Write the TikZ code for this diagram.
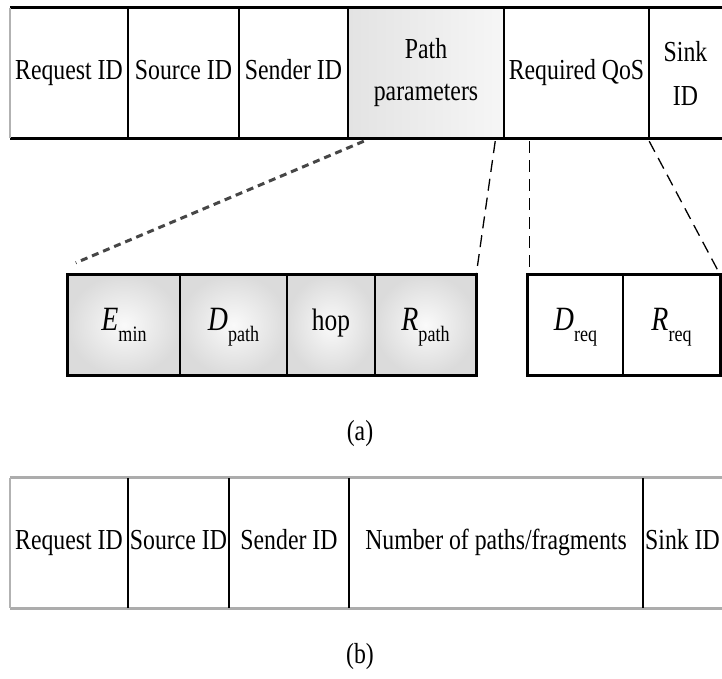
\documentclass[tikz,border=0pt]{standalone}
\usepackage{fontspec}
\setmainfont{Liberation Serif}[FakeStretch=0.82]
\newcommand{\fsub}[2]{{\fontsize{34}{34}\selectfont\itshape #1}\raisebox{-11pt}{\fontsize{22}{22}\selectfont #2}}
\tikzset{
  lbl/.style={font=\fontsize{29}{38}\selectfont},
  cellbox/.style={lbl, inner sep=0pt, minimum height=130pt, text height=20pt, text depth=7pt, align=center},
  twoline/.style={lbl, inner sep=0pt, minimum height=130pt, align=center},
  subcell/.style={inner sep=0pt, minimum height=100pt, text height=24pt, text depth=14pt},
  greycell/.style={subcell, shade, inner color=gray!4, outer color=gray!28},
  ppshade/.style={shade, left color=gray!22, right color=gray!7},
  thickline/.style={line width=3pt, black},
  greyline/.style={line width=3pt, gray!65},
  edgeline/.style={line width=1.5pt, gray!60},
  divider/.style={line width=1.8pt, black},
  subframe/.style={line width=3pt, black},
  graydash/.style={line width=3pt, gray!55!black, dash pattern=on 7pt off 5pt},
  thindash/.style={line width=1.3pt, black, dash pattern=on 12pt off 7pt}
}
\begin{document}
\begin{tikzpicture}[x=1pt, y=-1pt]
\useasboundingbox (0,0) rectangle (722,679);
\fill[white] (0,0) rectangle (722,679);
% ---- (a) header
\node[cellbox, minimum width=118pt] (req) at (69,73) {Request ID};
\node[cellbox, minimum width=111pt] (src) at (183.5,73) {Source ID};
\node[cellbox, minimum width=109pt] (snd) at (293.5,73) {Sender ID};
\node[twoline, ppshade, minimum width=156pt] (pp) at (426,73) {Path\\[4pt]parameters};
\node[cellbox, minimum width=145pt] (qos) at (576.5,73) {Required QoS};
\node[twoline, minimum width=73pt] (sink) at (685.5,73) {Sink\\[6pt]ID};
\draw[thickline] (req.north west) -- (req.north west -| sink.north east);
\draw[thickline] (req.south west) -- (req.south west -| sink.south east);
\draw[edgeline] (req.north west) -- (req.south west);
\draw[divider] (req.north east) -- (req.south east);
\draw[divider] (src.north east) -- (src.south east);
\draw[divider] (snd.north east) -- (snd.south east);
\draw[divider] (pp.north east) -- (pp.south east);
\draw[divider] (qos.north east) -- (qos.south east);
% ---- (a) expanded fields
\node[greycell, minimum width=112pt] (emin) at (124,325) {\fsub{E}{min}};
\node[greycell, minimum width=107pt] (dpath) at (233.5,325) {\fsub{D}{path}};
\node[greycell, minimum width=88pt] (hop) at (331,325) {\fontsize{31}{31}\selectfont hop};
\node[greycell, minimum width=101pt] (rpath) at (425.5,325) {\fsub{R}{path}};
\node[subcell, minimum width=95pt] (dreq) at (575.5,325) {\fsub{D}{req}};
\node[subcell, minimum width=97pt] (rreq) at (671.5,325) {\fsub{R}{req}};
\draw[subframe] (emin.north west) rectangle (rpath.south east);
\draw[divider] (emin.north east) -- (emin.south east);
\draw[divider] (dpath.north east) -- (dpath.south east);
\draw[divider] (hop.north east) -- (hop.south east);
\draw[subframe] (dreq.north west) rectangle (rreq.south east);
\draw[divider] (dreq.north east) -- (dreq.south east);
% ---- dashed connectors
\coordinate (d1a) at ([xshift=16pt, yshift=-3pt]pp.south west);
\coordinate (d1b) at ([xshift=8pt, yshift=12pt]emin.north west);
\coordinate (d2a) at ([xshift=-9pt, yshift=-3pt]pp.south east);
\coordinate (d3a) at ([xshift=26pt, yshift=-3pt]qos.south west);
\coordinate (d3b) at ([xshift=2pt]dreq.north west);
\coordinate (d4a) at ([yshift=-3pt]qos.south east);
\draw[graydash] (d1a) -- (d1b);
\draw[thindash] (d2a) -- (rpath.north east);
\draw[thindash] (d3a) -- (d3b);
\draw[thindash] (d4a) -- (rreq.north east);
\node[lbl] (la) at (360,434) {(a)};
% ---- (b)
\node[cellbox, minimum width=118pt] (breq) at (69,543) {Request ID};
\node[cellbox, minimum width=101pt] (bsrc) at (178.5,543) {Source ID};
\node[cellbox, minimum width=120pt] (bsnd) at (289,543) {Sender ID};
\node[cellbox, minimum width=294pt] (bnum) at (496,543) {Number of paths/fragments};
\node[cellbox, minimum width=79pt] (bsink) at (682.5,543) {Sink ID};
\draw[greyline] (breq.north west) -- (breq.north west -| bsink.north east);
\draw[greyline] (breq.south west) -- (breq.south west -| bsink.south east);
\draw[edgeline] (breq.north west) -- (breq.south west);
\draw[divider] (breq.north east) -- (breq.south east);
\draw[divider] (bsrc.north east) -- (bsrc.south east);
\draw[divider] (bsnd.north east) -- (bsnd.south east);
\draw[divider] (bnum.north east) -- (bnum.south east);
\node[lbl] (lb) at (360,657) {(b)};
\end{tikzpicture}
\end{document}
